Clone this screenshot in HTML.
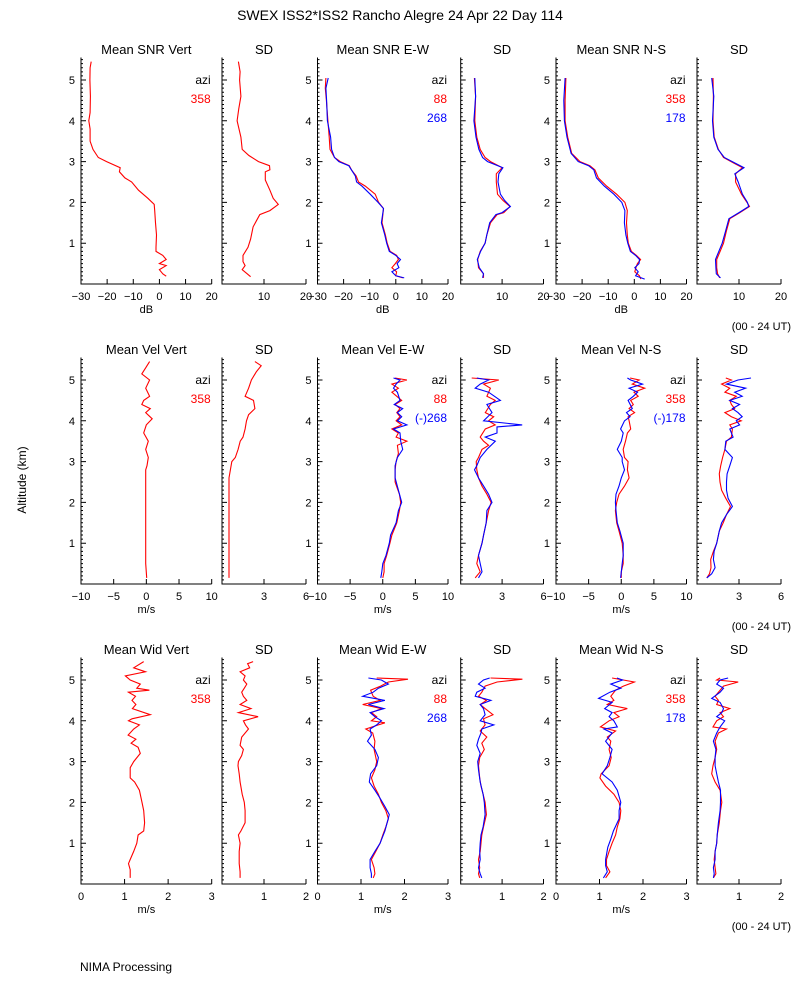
<!DOCTYPE html>
<html><head><meta charset="utf-8"><style>
html,body{margin:0;padding:0;background:#fff;}
svg{display:block;font-family:"Liberation Sans",sans-serif;}
</style></head><body>
<svg id="chart" width="800" height="1000">
<rect width="800" height="1000" fill="#fff"/>
<text x="400" y="20" font-size="14" text-anchor="middle">SWEX ISS2*ISS2 Rancho Alegre  24 Apr 22 Day 114</text>
<text transform="translate(26,480) rotate(-90)" font-size="12" text-anchor="middle">Altitude (km)</text>
<text x="80" y="971" font-size="12">NIMA Processing</text>
<text x="791" y="330" font-size="11" text-anchor="end">(00 - 24 UT)</text>
<text x="791" y="630" font-size="11" text-anchor="end">(00 - 24 UT)</text>
<text x="791" y="930" font-size="11" text-anchor="end">(00 - 24 UT)</text>
</svg>
<script>
// ---- Row 1: SNR (dB) ----
const snrVertAlt=[5.45,5.3,5.0,4.6,4.2,4.0,3.8,3.5,3.3,3.1,3.0,2.85,2.75,2.6,2.5,2.3,2.1,1.95,1.8,1.5,1.2,0.9,0.8,0.7,0.6,0.5,0.45,0.35,0.25,0.19];
const snrVertVal=[-26.1,-26.5,-26.6,-26.4,-26.5,-27,-26.5,-26.5,-25.4,-23.4,-20.2,-15,-15.3,-13.2,-10.6,-8.0,-4.4,-2.0,-1.8,-1.5,-1.1,-1.3,-1.3,1.3,2.6,0,2.6,0,1.3,2.6];
const snrVertSdAlt=[5.45,5.2,5.0,4.6,4.3,4.0,3.6,3.3,3.15,3.0,2.9,2.8,2.75,2.55,2.3,2.1,1.95,1.8,1.7,1.55,1.4,1.1,0.9,0.7,0.55,0.45,0.35,0.25,0.18];
const snrVertSdVal=[3.9,4.3,4.2,4.5,4.0,3.6,4.5,4.8,6.4,8.7,11.3,11.4,10.3,10.3,11.4,12.2,13.4,11.4,9.0,8.2,7.4,6.8,6.2,5.0,5.0,5.5,4.8,6.0,6.8];
const snrEwAlt=[5.05,4.8,4.5,4.0,3.6,3.3,3.1,3.0,2.9,2.8,2.65,2.5,2.4,2.2,2.0,1.85,1.5,1.2,1.0,0.8,0.7,0.6,0.5,0.4,0.3,0.2,0.15];
const snrEwRed=[-26.8,-27,-26.6,-26,-25.5,-25.2,-23.5,-21.3,-17.8,-17,-15.2,-14.3,-11.7,-7.9,-6.6,-4.7,-5.3,-4.0,-3.3,-2.2,0.35,1.0,-0.2,-1.5,0.3,0,2.7];
const snrEwBlue=[-25.9,-26.8,-26.5,-26.2,-25,-24.6,-23.5,-21.8,-18,-17,-15.5,-15,-13,-9.8,-6.8,-4.7,-5.5,-4.2,-3.5,-2.5,0,1.8,0.5,1.2,-1.5,0,3.2];
const snrEwSdAlt=[5.05,4.6,4.0,3.6,3.3,3.1,3.0,2.85,2.7,2.5,2.2,2.05,1.9,1.75,1.7,1.5,1.2,1.0,0.8,0.6,0.4,0.25,0.15];
const snrEwSdRed=[3.3,3.6,3.4,3.9,4.7,5.9,7.2,10,8.6,8.6,8.9,10.2,11.9,10.4,8.8,7.2,6.3,5.9,4.7,4.1,4.3,5.5,5.5];
const snrEwSdBlue=[3.4,3.6,3.2,3.7,4.4,5.3,6.5,10.2,9.2,9.0,9.6,10.6,12.0,10.0,8.5,7.0,6.3,5.9,4.8,4.0,4.5,5.5,5.3];
const snrNsAlt=[5.05,4.5,4.0,3.6,3.2,3.0,2.9,2.8,2.6,2.4,2.2,2.0,1.8,1.5,1.2,1.0,0.8,0.7,0.6,0.5,0.4,0.3,0.2,0.12];
const snrNsRed=[-26.2,-26.5,-26.5,-25.5,-24,-20.8,-17,-15.1,-13.8,-10.6,-6.8,-3.6,-2.7,-3,-2.7,-2.3,-1.1,0.8,2.4,1.2,0.6,0.2,2.0,2.5];
const snrNsBlue=[-26.5,-27,-26.8,-25.8,-24.2,-21.5,-17.5,-15.5,-14.5,-11.5,-7.8,-4.8,-3.6,-3.8,-3.2,-2.5,-1.5,0.5,2,1.8,0.2,1.5,0.5,4.0];
const snrNsSdAlt=[5.05,4.6,4.0,3.6,3.3,3.1,2.95,2.85,2.7,2.5,2.2,2.0,1.9,1.75,1.6,1.3,1.0,0.8,0.6,0.4,0.25,0.15];
const snrNsSdRed=[3.8,3.9,3.8,4.1,5.1,6.3,9,10.8,9.2,9.2,10.6,11.9,12.5,10.2,7.8,7,6.3,5.5,4.7,4.7,4.9,5.4];
const snrNsSdBlue=[3.5,4.0,3.7,4.0,5.0,6.5,9.3,11.2,9.0,9.8,10.8,12.0,12.3,10.0,7.6,6.8,6.0,5.2,4.4,4.5,4.6,5.6];
// ---- Row 2: Velocity (m/s) ----
const velVertAlt=[5.45,5.3,5.15,5.0,4.8,4.6,4.5,4.4,4.3,4.2,4.05,3.9,3.7,3.5,3.3,3.1,2.9,2.8,1.5,0.5,0.15];
const velVertVal=[0.5,-0.1,-0.7,0.5,-0.1,0.5,-0.4,-0.7,0.6,-0.1,0.9,0,-0.4,0.3,-0.1,0.3,0.1,-0.1,-0.1,-0.1,0.05];
const velVertSdAlt=[5.45,5.35,5.2,5.0,4.8,4.6,4.5,4.3,4.15,4.0,3.8,3.6,3.5,3.3,3.1,3.0,2.8,2.6,1.5,0.15];
const velVertSdVal=[2.35,2.8,2.45,2.1,1.9,1.65,2.25,2.35,1.9,1.75,1.65,1.5,1.3,1.15,0.95,0.7,0.6,0.5,0.5,0.5];
const velEwRedAlt=[5.05,5.0,4.9,4.8,4.7,4.5,4.4,4.3,4.2,4.1,4.0,3.9,3.8,3.7,3.6,3.5,3.4,3.2,3.0,2.8,2.5,2.2,2.0,1.8,1.5,1.2,1.0,0.7,0.5,0.3,0.15];
const velEwRed=[1.9,3.7,1.4,2.4,1.4,2.9,1.9,2.65,2.15,2.65,2.05,2.9,1.4,2.4,2.05,3.7,2.25,2.4,2.05,1.9,1.9,2.55,2.75,2.55,2.15,1.4,1.1,0.6,0.2,0.2,0];
const velEwBlueAlt=[5.05,5.0,4.9,4.8,4.7,4.5,4.4,4.3,4.2,4.1,4.0,3.9,3.8,3.7,3.5,3.3,3.1,2.9,2.6,2.3,2.0,1.8,1.5,1.2,1.0,0.7,0.5,0.3,0.15];
const velEwBlue=[1.65,2.65,2.05,1.65,2.25,2.65,1.75,3.05,2.25,2.9,2.25,3.7,1.65,2.65,2.75,3.05,2.25,1.9,1.9,2.4,2.9,2.4,2.05,1.2,1.0,0.5,0,-0.15,-0.3];
const velEwSdRedAlt=[5.05,5.0,4.9,4.8,4.6,4.5,4.4,4.2,4.1,4.0,3.9,3.8,3.6,3.5,3.4,3.3,3.1,3.0,2.8,2.6,2.4,2.2,2.0,1.8,1.5,1.2,1.0,0.7,0.5,0.3,0.15];
const velEwSdRed=[0.8,2.76,1.66,2.15,1.9,2.5,2.15,1.78,2.39,2.02,2.5,1.78,1.41,1.66,2.02,1.54,1.29,1.12,1.17,1.29,1.54,1.9,2.2,2.02,1.85,1.66,1.54,1.29,1.17,1.41,1.05];
const velEwSdBlueAlt=[5.05,5.0,4.9,4.8,4.7,4.5,4.4,4.2,4.0,3.9,3.85,3.7,3.6,3.5,3.3,3.1,2.9,2.8,2.6,2.4,2.2,2.0,1.8,1.5,1.2,1.0,0.7,0.5,0.3,0.15];
const velEwSdBlue=[1.17,2.02,1.41,1.05,2.02,2.88,1.9,2.27,1.66,4.46,2.63,2.63,1.78,2.51,1.9,1.41,1.17,1.0,1.29,1.66,2.02,2.27,1.9,1.85,1.66,1.54,1.29,1.41,1.54,1.29];
const velNsRedAlt=[5.05,5.0,4.9,4.8,4.7,4.6,4.5,4.4,4.3,4.2,4.1,4.0,3.8,3.7,3.5,3.3,3.1,3.0,2.8,2.6,2.4,2.2,2.0,1.8,1.5,1.3,1.0,0.7,0.5,0.3,0.15];
const velNsRed=[1.35,2.75,1.7,3.6,1.95,2.6,1.45,1.85,1.2,2.05,1.05,1.2,1.45,0.95,0.65,0.3,0.5,1.05,0.95,1.2,0.5,-0.35,-0.7,-0.9,-0.7,-0.35,0.15,0.3,0.3,0,0];
const velNsBlueAlt=[5.05,5.0,4.9,4.8,4.7,4.6,4.5,4.3,4.2,4.1,4.0,3.8,3.7,3.5,3.3,3.1,3.0,2.8,2.6,2.4,2.2,2.0,1.8,1.5,1.3,1.0,0.7,0.5,0.3,0.15];
const velNsBlue=[0.95,1.45,3.25,1.2,2.5,1.85,1.05,1.7,0.8,1.35,0.5,-0.1,0.3,0,-0.6,0.15,0.15,0.5,0,-0.35,-0.8,-0.9,-0.8,-0.6,-0.2,0.3,0.3,0.15,0,-0.1];
const velNsSdAlt=[5.05,5.0,4.9,4.8,4.7,4.6,4.5,4.4,4.3,4.2,4.1,4.0,3.9,3.8,3.6,3.5,3.3,3.1,2.9,2.7,2.5,2.3,2.1,1.9,1.7,1.5,1.3,1.0,0.8,0.6,0.4,0.25,0.15];
const velNsSdRed=[2.06,2.46,1.76,2.34,1.99,2.81,2.34,2.46,2.69,1.99,2.46,3.16,2.34,2.53,2.46,2.11,1.99,1.83,1.69,1.59,1.64,1.76,2.06,2.39,2.11,1.87,1.59,1.41,1.17,0.98,1.0,0.89,0.7];
const velNsSdBlue=[3.86,2.93,2.11,3.47,2.69,3.23,2.34,3.04,2.53,2.93,3.23,2.81,3.04,2.34,2.58,2.06,1.99,2.53,2.34,2.15,2.11,2.11,2.22,2.53,2.11,1.76,1.59,1.41,1.22,1.17,1.29,1.05,0.7];
// ---- Row 3: Spectral width (m/s) ----
const widVertAlt=[5.45,5.3,5.2,5.1,5.0,4.9,4.8,4.75,4.7,4.6,4.5,4.4,4.3,4.15,4.05,4.0,3.9,3.8,3.65,3.55,3.45,3.35,3.2,3.0,2.85,2.6,2.5,2.3,2.0,1.8,1.5,1.3,1.2,1.0,0.8,0.6,0.5,0.35,0.15];
const widVertVal=[1.44,1.21,1.48,1.02,1.13,1.36,1.28,1.57,1.09,1.25,1.17,1.26,1.18,1.59,1.17,1.09,1.34,1.21,1.08,1.26,1.15,1.31,1.36,1.21,1.13,1.13,1.23,1.34,1.4,1.44,1.46,1.44,1.31,1.28,1.21,1.13,1.09,1.13,1.13];
const widVertSdAlt=[5.45,5.4,5.3,5.2,5.1,5.0,4.9,4.8,4.7,4.6,4.5,4.4,4.3,4.2,4.1,4.0,3.9,3.8,3.6,3.4,3.3,3.15,3.0,2.9,2.7,2.5,2.2,2.0,1.8,1.5,1.3,1.2,1.0,0.8,0.5,0.3,0.15];
const widVertSdVal=[0.74,0.61,0.66,0.43,0.55,0.51,0.59,0.53,0.47,0.51,0.59,0.43,0.69,0.39,0.86,0.51,0.56,0.63,0.47,0.43,0.51,0.47,0.39,0.38,0.41,0.43,0.48,0.53,0.55,0.55,0.45,0.39,0.43,0.41,0.41,0.43,0.43];
const widEwRedAlt=[5.05,5.02,4.95,4.85,4.75,4.6,4.5,4.4,4.3,4.2,4.1,4.0,3.95,3.9,3.8,3.7,3.5,3.3,3.0,2.8,2.6,2.4,2.2,2.0,1.8,1.6,1.4,1.2,1.0,0.8,0.6,0.4,0.25,0.15];
const widEwRed=[1.36,2.08,1.63,1.45,1.22,1.28,1.44,1.04,1.47,1.24,1.36,1.24,1.55,1.4,1.11,1.27,1.32,1.3,1.36,1.32,1.24,1.3,1.4,1.47,1.57,1.63,1.57,1.5,1.44,1.34,1.24,1.3,1.32,1.28];
const widEwBlueAlt=[5.05,5.0,4.9,4.8,4.7,4.6,4.5,4.4,4.3,4.2,4.1,4.0,3.9,3.8,3.65,3.5,3.3,3.1,2.9,2.7,2.5,2.3,2.1,1.9,1.7,1.5,1.3,1.0,0.8,0.6,0.4,0.25,0.15];
const widEwBlue=[1.17,1.47,1.63,1.4,1.28,1.04,1.55,1.17,1.53,1.21,1.32,1.47,1.36,1.21,1.24,1.15,1.32,1.4,1.36,1.22,1.19,1.32,1.44,1.55,1.65,1.6,1.55,1.44,1.32,1.21,1.21,1.24,1.24];
const widEwSdRedAlt=[5.05,5.02,4.95,4.85,4.7,4.6,4.5,4.4,4.3,4.15,4.05,3.9,3.75,3.6,3.45,3.3,3.1,2.9,2.6,2.4,2.2,2.0,1.7,1.4,1.2,1.0,0.8,0.6,0.4,0.25,0.15];
const widEwSdRed=[0.72,1.49,0.88,0.59,0.51,0.43,0.62,0.47,0.59,0.78,0.55,0.59,0.47,0.63,0.51,0.57,0.46,0.43,0.46,0.49,0.54,0.59,0.62,0.55,0.51,0.49,0.47,0.43,0.46,0.43,0.46];
const widEwSdBlueAlt=[5.05,5.0,4.9,4.8,4.7,4.6,4.5,4.4,4.3,4.15,4.0,3.9,3.8,3.7,3.55,3.4,3.2,3.0,2.8,2.5,2.2,2.0,1.7,1.4,1.2,1.0,0.8,0.6,0.4,0.25,0.15];
const widEwSdBlue=[0.7,0.55,0.43,0.59,0.39,0.35,0.73,0.47,0.55,0.59,0.47,0.8,0.51,0.49,0.43,0.39,0.47,0.41,0.43,0.47,0.54,0.57,0.59,0.54,0.49,0.47,0.46,0.47,0.43,0.47,0.51];
const widNsRedAlt=[5.05,4.95,4.85,4.75,4.6,4.5,4.4,4.3,4.2,4.1,4.0,3.85,3.75,3.6,3.5,3.3,3.1,2.9,2.7,2.6,2.4,2.2,2.0,1.8,1.6,1.4,1.2,1.0,0.8,0.6,0.45,0.3,0.15];
const widNsRed=[1.29,1.8,1.55,1.37,1.26,1.33,1.18,1.64,1.33,1.45,1.22,1.02,1.37,1.18,1.26,1.22,1.27,1.22,1.04,1.01,1.14,1.33,1.45,1.49,1.47,1.41,1.37,1.29,1.22,1.16,1.16,1.24,1.14];
const widNsBlueAlt=[5.05,5.0,4.9,4.8,4.7,4.55,4.45,4.3,4.2,4.1,4.0,3.85,3.8,3.7,3.5,3.3,3.1,2.9,2.7,2.5,2.3,2.0,1.8,1.6,1.3,1.1,0.9,0.6,0.45,0.3,0.15];
const widNsBlue=[1.4,1.53,1.26,1.49,1.24,0.98,1.29,1.12,1.29,1.22,1.33,1.41,1.1,1.29,1.14,1.29,1.24,1.18,1.06,1.29,1.41,1.49,1.45,1.45,1.32,1.26,1.19,1.14,1.14,1.18,1.09];
const widNsSdRedAlt=[5.05,5.0,4.95,4.85,4.75,4.6,4.5,4.4,4.3,4.2,4.1,4.0,3.85,3.8,3.7,3.5,3.3,3.1,2.9,2.7,2.5,2.3,2.0,1.8,1.5,1.2,1.0,0.8,0.6,0.4,0.25,0.15];
const widNsSdRed=[0.55,0.47,0.98,0.63,0.55,0.43,0.51,0.47,0.78,0.55,0.63,0.47,0.38,0.7,0.51,0.43,0.47,0.43,0.38,0.35,0.43,0.55,0.59,0.56,0.53,0.48,0.47,0.43,0.41,0.43,0.45,0.39];
const widNsSdBlueAlt=[5.05,5.0,4.9,4.8,4.7,4.55,4.45,4.3,4.2,4.1,4.0,3.85,3.7,3.5,3.3,3.1,2.9,2.7,2.5,2.3,2.0,1.8,1.5,1.2,1.0,0.8,0.6,0.4,0.25,0.15];
const widNsSdBlue=[0.74,0.55,0.47,0.63,0.55,0.35,0.55,0.63,0.59,0.47,0.66,0.55,0.47,0.39,0.45,0.43,0.43,0.47,0.51,0.56,0.56,0.55,0.51,0.48,0.47,0.43,0.43,0.39,0.41,0.39];
// axis tick labels
const snrTicks=[-30,-20,-10,0,10,20];
const snrSdTicks=[10,20];
const velTicks=[-10,-5,0,5,10];
const velSdTicks=[3,6];
const widTicks=[0,1,2,3];
const widSdTicks=[1,2];
const altTicks=[1,2,3,4,5];

const root=document.getElementById('chart');
const SVGNS=root.namespaceURI;
const RED='#ff0000', BLUE='#0000ff';
const colX=[[81,211.7],[222,306],[317.5,448],[460.7,543.5],[556,686.5],[697,781]];
const rowBottom=[284,584,884];
const PXKM=40.8;
function mk(tag,attrs,parent){const e=document.createElementNS(SVGNS,tag);for(const k in attrs)e.setAttribute(k,attrs[k]);(parent||root).appendChild(e);return e;}
function txt(x,y,s,size,anchor,fill,parent){const t=mk('text',{x:x,y:y,'font-size':size,'text-anchor':anchor,fill:fill||'#000'},parent);t.textContent=s;return t;}

const panels=[
 {r:0,c:0,dom:[-30,20],ticks:snrTicks,title:'Mean SNR Vert',unit:'dB',series:[[snrVertAlt,snrVertVal,RED]],legend:[['azi','#000'],['358',RED]],name:'snr-vert'},
 {r:0,c:1,dom:[0,20],ticks:snrSdTicks,title:'SD',series:[[snrVertSdAlt,snrVertSdVal,RED]],name:'snr-vert-sd'},
 {r:0,c:2,dom:[-30,20],ticks:snrTicks,title:'Mean SNR E-W',unit:'dB',series:[[snrEwAlt,snrEwRed,RED],[snrEwAlt,snrEwBlue,BLUE]],legend:[['azi','#000'],['88',RED],['268',BLUE]],name:'snr-ew'},
 {r:0,c:3,dom:[0,20],ticks:snrSdTicks,title:'SD',series:[[snrEwSdAlt,snrEwSdRed,RED],[snrEwSdAlt,snrEwSdBlue,BLUE]],name:'snr-ew-sd'},
 {r:0,c:4,dom:[-30,20],ticks:snrTicks,title:'Mean SNR N-S',unit:'dB',series:[[snrNsAlt,snrNsRed,RED],[snrNsAlt,snrNsBlue,BLUE]],legend:[['azi','#000'],['358',RED],['178',BLUE]],name:'snr-ns'},
 {r:0,c:5,dom:[0,20],ticks:snrSdTicks,title:'SD',series:[[snrNsSdAlt,snrNsSdRed,RED],[snrNsSdAlt,snrNsSdBlue,BLUE]],name:'snr-ns-sd'},
 {r:1,c:0,dom:[-10,10],ticks:velTicks,title:'Mean Vel Vert',unit:'m/s',series:[[velVertAlt,velVertVal,RED]],legend:[['azi','#000'],['358',RED]],name:'vel-vert'},
 {r:1,c:1,dom:[0,6],ticks:velSdTicks,title:'SD',series:[[velVertSdAlt,velVertSdVal,RED]],name:'vel-vert-sd'},
 {r:1,c:2,dom:[-10,10],ticks:velTicks,title:'Mean Vel E-W',unit:'m/s',series:[[velEwRedAlt,velEwRed,RED],[velEwBlueAlt,velEwBlue,BLUE]],legend:[['azi','#000'],['88',RED],['(-)268',BLUE]],name:'vel-ew'},
 {r:1,c:3,dom:[0,6],ticks:velSdTicks,title:'SD',series:[[velEwSdRedAlt,velEwSdRed,RED],[velEwSdBlueAlt,velEwSdBlue,BLUE]],name:'vel-ew-sd'},
 {r:1,c:4,dom:[-10,10],ticks:velTicks,title:'Mean Vel N-S',unit:'m/s',series:[[velNsRedAlt,velNsRed,RED],[velNsBlueAlt,velNsBlue,BLUE]],legend:[['azi','#000'],['358',RED],['(-)178',BLUE]],name:'vel-ns'},
 {r:1,c:5,dom:[0,6],ticks:velSdTicks,title:'SD',series:[[velNsSdAlt,velNsSdRed,RED],[velNsSdAlt,velNsSdBlue,BLUE]],name:'vel-ns-sd'},
 {r:2,c:0,dom:[0,3],ticks:widTicks,title:'Mean Wid Vert',unit:'m/s',series:[[widVertAlt,widVertVal,RED]],legend:[['azi','#000'],['358',RED]],name:'wid-vert'},
 {r:2,c:1,dom:[0,2],ticks:widSdTicks,title:'SD',series:[[widVertSdAlt,widVertSdVal,RED]],name:'wid-vert-sd'},
 {r:2,c:2,dom:[0,3],ticks:widTicks,title:'Mean Wid E-W',unit:'m/s',series:[[widEwRedAlt,widEwRed,RED],[widEwBlueAlt,widEwBlue,BLUE]],legend:[['azi','#000'],['88',RED],['268',BLUE]],name:'wid-ew'},
 {r:2,c:3,dom:[0,2],ticks:widSdTicks,title:'SD',series:[[widEwSdRedAlt,widEwSdRed,RED],[widEwSdBlueAlt,widEwSdBlue,BLUE]],name:'wid-ew-sd'},
 {r:2,c:4,dom:[0,3],ticks:widTicks,title:'Mean Wid N-S',unit:'m/s',series:[[widNsRedAlt,widNsRed,RED],[widNsBlueAlt,widNsBlue,BLUE]],legend:[['azi','#000'],['358',RED],['178',BLUE]],name:'wid-ns'},
 {r:2,c:5,dom:[0,2],ticks:widSdTicks,title:'SD',series:[[widNsSdRedAlt,widNsSdRed,RED],[widNsSdBlueAlt,widNsSdBlue,BLUE]],name:'wid-ns-sd'}
];

panels.forEach(function(p){
  const x0=colX[p.c][0], x1=colX[p.c][1]; const yb=rowBottom[p.r]; const yt=yb-5.55*PXKM;
  const xs=function(v){return x0+(v-p.dom[0])/(p.dom[1]-p.dom[0])*(x1-x0);};
  const ys=function(a){return yb-a*PXKM;};
  const g=mk('g',{});
  
  
  const t=txt((x0+x1)/2,yb-230,p.title,13,'middle','#000',g);
  
  
  const ax=mk('path',{d:'M'+x0+','+yt+'V'+yb+'H'+x1,stroke:'#000','stroke-width':1,fill:'none'},g);
  
  
  let d='';
  for(let i=1;i<=55;i++){const y=ys(i/10);const len=(i%10===0)?5:2;d+='M'+x0+','+y+'h'+len;}
  p.ticks.forEach(function(v){d+='M'+xs(v)+','+yb+'v-5';});
  const tk=mk('path',{d:d,stroke:'#000','stroke-width':1,fill:'none'},g);
  
  
  p.ticks.forEach(function(v){const lt=txt(xs(v),yb+16,(v<0?'\u2212':'')+Math.abs(v),11,'middle','#000',g);
    
    });
  if(p.c%2===0){altTicks.forEach(function(a){const lt=txt(x0-6,ys(a)+4,String(a),11,'end','#000',g);
    
    });}
  if(p.unit){const u=txt((x0+x1)/2,yb+29,p.unit,11,'middle','#000',g);
    
    }
  p.series.forEach(function(s){
    const alt=s[0], val=s[1], col=s[2];
    const n=Math.min(alt.length,val.length);
    const pts=[];
    for(let i=0;i<n;i++)pts.push(xs(val[i]).toFixed(1)+','+ys(alt[i]).toFixed(1));
    const pl=mk('polyline',{points:pts.join(' '),fill:'none',stroke:col,'stroke-width':1.1},g);
    
    
  });
  if(p.legend){p.legend.forEach(function(l,i){const lt=txt(x1-1,yb-200+i*19,l[0],12,'end',l[1],g);
    
    });}
});
</script>
</body></html>
